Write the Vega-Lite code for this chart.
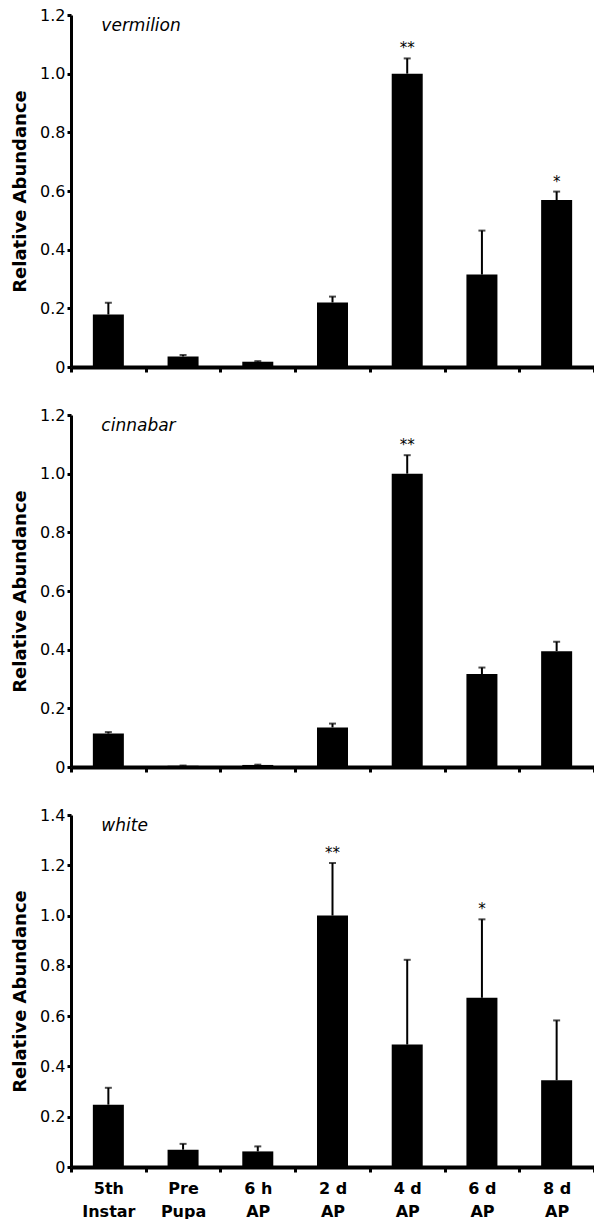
{
  "$schema": "https://vega.github.io/schema/vega-lite/v6.json",
  "autosize": {"type": "pad"},
  "padding": {"left": 11, "top": 7, "right": 0, "bottom": 0},
  "background": "white",
  "spacing": 48,
  "bounds": "flush",
  "config": {
    "font": "DejaVu Sans",
    "view": {"stroke": null},
    "axis": {"grid": false, "domainColor": "black", "tickColor": "black", "labelColor": "black", "titleColor": "black"},
    "axisY": {"domainWidth": 3, "tickWidth": 3, "tickSize": 4, "labelFontSize": 16, "labelPadding": 2, "titleFontSize": 18, "titleFontWeight": "bold", "titlePadding": 10},
    "axisX": {"domainWidth": 4, "tickWidth": 3, "tickSize": 5, "tickBand": "extent", "labelFontSize": 16, "labelFontWeight": "bold", "labelAngle": 0, "labelLineHeight": 23, "labelPadding": 8, "title": null}
  },
  "datasets": {
    "expr": [
      {"gene": "vermilion", "stage": "5th Instar", "value": 0.179, "err": 0.219, "sig": ""},
      {"gene": "vermilion", "stage": "Pre Pupa", "value": 0.036, "err": 0.041, "sig": ""},
      {"gene": "vermilion", "stage": "6 h AP", "value": 0.018, "err": 0.02, "sig": ""},
      {"gene": "vermilion", "stage": "2 d AP", "value": 0.22, "err": 0.24, "sig": ""},
      {"gene": "vermilion", "stage": "4 d AP", "value": 1.0, "err": 1.052, "sig": "**"},
      {"gene": "vermilion", "stage": "6 d AP", "value": 0.315, "err": 0.465, "sig": ""},
      {"gene": "vermilion", "stage": "8 d AP", "value": 0.569, "err": 0.598, "sig": "*"},
      {"gene": "cinnabar", "stage": "5th Instar", "value": 0.114, "err": 0.119, "sig": ""},
      {"gene": "cinnabar", "stage": "Pre Pupa", "value": 0.004, "err": 0.005, "sig": ""},
      {"gene": "cinnabar", "stage": "6 h AP", "value": 0.007, "err": 0.008, "sig": ""},
      {"gene": "cinnabar", "stage": "2 d AP", "value": 0.135, "err": 0.148, "sig": ""},
      {"gene": "cinnabar", "stage": "4 d AP", "value": 1.0, "err": 1.063, "sig": "**"},
      {"gene": "cinnabar", "stage": "6 d AP", "value": 0.317, "err": 0.339, "sig": ""},
      {"gene": "cinnabar", "stage": "8 d AP", "value": 0.395, "err": 0.427, "sig": ""},
      {"gene": "white", "stage": "5th Instar", "value": 0.248, "err": 0.315, "sig": ""},
      {"gene": "white", "stage": "Pre Pupa", "value": 0.069, "err": 0.092, "sig": ""},
      {"gene": "white", "stage": "6 h AP", "value": 0.062, "err": 0.082, "sig": ""},
      {"gene": "white", "stage": "2 d AP", "value": 1.0, "err": 1.209, "sig": "**"},
      {"gene": "white", "stage": "4 d AP", "value": 0.487, "err": 0.824, "sig": ""},
      {"gene": "white", "stage": "6 d AP", "value": 0.673, "err": 0.985, "sig": "*"},
      {"gene": "white", "stage": "8 d AP", "value": 0.345, "err": 0.583, "sig": ""}
    ]
  },
  "vconcat": [
    {
      "width": 523, "height": 352,
      "data": {"name": "expr"},
      "transform": [{"filter": "datum.gene == 'vermilion'"}],
      "encoding": {
        "x": {"field": "stage", "type": "nominal", "sort": ["5th Instar", "Pre Pupa", "6 h AP", "2 d AP", "4 d AP", "6 d AP", "8 d AP"], "scale": {"paddingInner": 0, "paddingOuter": 0}, "axis": {"labels": false}}
      },
      "layer": [
        {"mark": {"type": "bar", "color": "black", "width": {"band": 0.415}},
         "encoding": {"y": {"field": "value", "type": "quantitative", "title": "Relative Abundance", "scale": {"domain": [0, 1.2], "nice": false}, "axis": {"values": [0, 0.2, 0.4, 0.6, 0.8, 1.0, 1.2], "labelExpr": "datum.value == 0 ? '0' : format(datum.value, '.1f')"}}}},
        {"mark": {"type": "rule", "color": "black", "strokeWidth": 2},
         "encoding": {"y": {"field": "value", "type": "quantitative", "title": "Relative Abundance"}, "y2": {"field": "err"}}},
        {"mark": {"type": "tick", "color": "black", "size": 7, "thickness": 2, "orient": "horizontal"},
         "encoding": {"y": {"field": "err", "type": "quantitative", "title": "Relative Abundance"}}},
        {"mark": {"type": "text", "fontSize": 15, "baseline": "alphabetic", "dy": -5, "color": "black"},
         "encoding": {"y": {"field": "err", "type": "quantitative", "title": "Relative Abundance"}, "text": {"field": "sig"}}},
        {"transform": [{"filter": "datum.stage == '5th Instar'"}],
         "mark": {"type": "text", "fontSize": 17, "fontStyle": "italic", "align": "left", "baseline": "alphabetic", "dx": -7, "dy": 16, "color": "black"},
         "encoding": {"y": {"datum": 1.2}, "text": {"field": "gene"}}}
      ]
    },
    {
      "width": 523, "height": 352,
      "data": {"name": "expr"},
      "transform": [{"filter": "datum.gene == 'cinnabar'"}],
      "encoding": {
        "x": {"field": "stage", "type": "nominal", "sort": ["5th Instar", "Pre Pupa", "6 h AP", "2 d AP", "4 d AP", "6 d AP", "8 d AP"], "scale": {"paddingInner": 0, "paddingOuter": 0}, "axis": {"labels": false}}
      },
      "layer": [
        {"mark": {"type": "bar", "color": "black", "width": {"band": 0.415}},
         "encoding": {"y": {"field": "value", "type": "quantitative", "title": "Relative Abundance", "scale": {"domain": [0, 1.2], "nice": false}, "axis": {"values": [0, 0.2, 0.4, 0.6, 0.8, 1.0, 1.2], "labelExpr": "datum.value == 0 ? '0' : format(datum.value, '.1f')"}}}},
        {"mark": {"type": "rule", "color": "black", "strokeWidth": 2},
         "encoding": {"y": {"field": "value", "type": "quantitative", "title": "Relative Abundance"}, "y2": {"field": "err"}}},
        {"mark": {"type": "tick", "color": "black", "size": 7, "thickness": 2, "orient": "horizontal"},
         "encoding": {"y": {"field": "err", "type": "quantitative", "title": "Relative Abundance"}}},
        {"mark": {"type": "text", "fontSize": 15, "baseline": "alphabetic", "dy": -5, "color": "black"},
         "encoding": {"y": {"field": "err", "type": "quantitative", "title": "Relative Abundance"}, "text": {"field": "sig"}}},
        {"transform": [{"filter": "datum.stage == '5th Instar'"}],
         "mark": {"type": "text", "fontSize": 17, "fontStyle": "italic", "align": "left", "baseline": "alphabetic", "dx": -7, "dy": 16, "color": "black"},
         "encoding": {"y": {"datum": 1.2}, "text": {"field": "gene"}}}
      ]
    },
    {
      "width": 523, "height": 352,
      "data": {"name": "expr"},
      "transform": [{"filter": "datum.gene == 'white'"}],
      "encoding": {
        "x": {"field": "stage", "type": "nominal", "sort": ["5th Instar", "Pre Pupa", "6 h AP", "2 d AP", "4 d AP", "6 d AP", "8 d AP"], "scale": {"paddingInner": 0, "paddingOuter": 0}, "axis": {"labelExpr": "indexof(datum.label, ' AP') > 0 ? [replace(datum.label, ' AP', ''), 'AP'] : split(datum.label, ' ')"}}
      },
      "layer": [
        {"mark": {"type": "bar", "color": "black", "width": {"band": 0.415}},
         "encoding": {"y": {"field": "value", "type": "quantitative", "title": "Relative Abundance", "scale": {"domain": [0, 1.4], "nice": false}, "axis": {"values": [0, 0.2, 0.4, 0.6, 0.8, 1.0, 1.2, 1.4], "labelExpr": "datum.value == 0 ? '0' : format(datum.value, '.1f')"}}}},
        {"mark": {"type": "rule", "color": "black", "strokeWidth": 2},
         "encoding": {"y": {"field": "value", "type": "quantitative", "title": "Relative Abundance"}, "y2": {"field": "err"}}},
        {"mark": {"type": "tick", "color": "black", "size": 7, "thickness": 2, "orient": "horizontal"},
         "encoding": {"y": {"field": "err", "type": "quantitative", "title": "Relative Abundance"}}},
        {"mark": {"type": "text", "fontSize": 15, "baseline": "alphabetic", "dy": -5, "color": "black"},
         "encoding": {"y": {"field": "err", "type": "quantitative", "title": "Relative Abundance"}, "text": {"field": "sig"}}},
        {"transform": [{"filter": "datum.stage == '5th Instar'"}],
         "mark": {"type": "text", "fontSize": 17, "fontStyle": "italic", "align": "left", "baseline": "alphabetic", "dx": -7, "dy": 16, "color": "black"},
         "encoding": {"y": {"datum": 1.4}, "text": {"field": "gene"}}}
      ]
    }
  ]
}
